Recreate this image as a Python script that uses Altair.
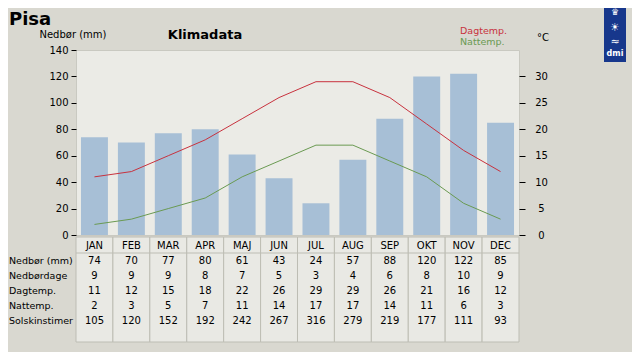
import altair as alt
import pandas as pd

months = ["JAN", "FEB", "MAR", "APR", "MAJ", "JUN", "JUL", "AUG", "SEP", "OKT", "NOV", "DEC"]
nedbor = [74, 70, 77, 80, 61, 43, 24, 57, 88, 120, 122, 85]
nedbordage = [9, 9, 9, 8, 7, 5, 3, 4, 6, 8, 10, 9]
dagtemp = [11, 12, 15, 18, 22, 26, 29, 29, 26, 21, 16, 12]
nattemp = [2, 3, 5, 7, 11, 14, 17, 17, 14, 11, 6, 3]
solskin = [105, 120, 152, 192, 242, 267, 316, 279, 219, 177, 111, 93]
row_labels = ["Nedbør (mm)", "Nedbørdage", "Dagtemp.", "Nattemp.", "Solskinstimer"]
series_names = ["Dagtemp.", "Nattemp."]

W, H = 443, 185
FONT = "DejaVu Sans"
RED = "#c8323e"
GREEN = "#6a9a52"

xscale = alt.Scale(domain=months, paddingInner=0, paddingOuter=0)
xenc = alt.X("month:N", scale=xscale, axis=None, sort=months)

precip_df = pd.DataFrame({"month": months, "nedbor": nedbor})
temp_df = pd.DataFrame({
    "month": months * 2,
    "serie": [series_names[0]] * 12 + [series_names[1]] * 12,
    "temp": dagtemp + nattemp,
})

rows_all = ["hdr"] + row_labels
table_values = [nedbor, nedbordage, dagtemp, nattemp, solskin]
cells = []
for m in months:
    cells.append({"month": m, "row": "hdr", "txt": m})
for lab, vals in zip(row_labels, table_values):
    for m, v in zip(months, vals):
        cells.append({"month": m, "row": lab, "txt": str(v)})
cells_df = pd.DataFrame(cells)
labels_df = pd.DataFrame({"row": row_labels})
rowscale = alt.Scale(type="point", domain=rows_all, range=[196, 271], padding=0)

dummy = pd.DataFrame({"a": [0]})

# table column backgrounds
table_bg = alt.Chart(pd.DataFrame({"month": months})).mark_rect(
    fill="#e9e9e4", stroke="#bdbdb4", strokeWidth=1
).encode(x=xenc, y=alt.value(187), y2=alt.value(292))

header_rule = alt.Chart(dummy).mark_rule(color="#bdbdb4", strokeWidth=1).encode(
    x=alt.value(0), x2=alt.value(W), y=alt.value(203)
)

bars = alt.Chart(precip_df).mark_bar(
    color="#a7bfd6", width=alt.RelativeBandSize(0.73)
).encode(
    x=xenc,
    y=alt.Y("nedbor:Q", scale=alt.Scale(domain=[0, 140], nice=False),
            axis=alt.Axis(orient="left", values=list(range(0, 141, 20)), title=None,
                          domain=False, grid=False, tickSize=5, tickColor="#000",
                          labelPadding=3, labelFontSize=10, labelFont=FONT,
                          labelColor="#000")),
)

lines = alt.Chart(temp_df).mark_line(strokeWidth=1, interpolate="linear").encode(
    x=xenc,
    y=alt.Y("temp:Q", scale=alt.Scale(domain=[0, 35], nice=False),
            axis=alt.Axis(orient="right", values=list(range(0, 31, 5)), title=None,
                          domain=False, grid=False, tickSize=6, tickColor="#000",
                          labelAlign="center", labelPadding=16, labelFontSize=10,
                          labelFont=FONT, labelColor="#000")),
    color=alt.Color("serie:N", scale=alt.Scale(domain=series_names, range=[RED, GREEN]),
                    legend=None),
    detail="serie:N",
)

cell_text = alt.Chart(cells_df).mark_text(
    font=FONT, fontSize=10, color="#000", baseline="middle", align="center"
).encode(
    x=xenc,
    y=alt.Y("row:N", scale=rowscale, axis=None),
    text="txt:N",
)

row_text = alt.Chart(labels_df).mark_text(
    font=FONT, fontSize=9.5, color="#000", baseline="middle", align="left"
).encode(
    x=alt.value(-67),
    y=alt.Y("row:N", scale=rowscale, axis=None),
    text="row:N",
)


def label(txt, x, y, size=10, bold=False, color="#000", align="left"):
    return alt.Chart(dummy).mark_text(
        text=txt, font=FONT, fontSize=size, fontWeight="bold" if bold else "normal",
        color=color, align=align, baseline="middle"
    ).encode(x=alt.value(x), y=alt.value(y))


logo = alt.Chart(dummy).mark_rect(color="#17378c").encode(
    x=alt.value(528), x2=alt.value(550), y=alt.value(-50), y2=alt.value(12)
)

decor = [
    label("Pisa", -67, -30, size=18, bold=True),
    label("Nedbør (mm)", -3, -15, size=10, align="center"),
    label("Klimadata", 129, -15, size=13, bold=True, align="center"),
    label("Dagtemp.", 384, -19, size=9.5, color=RED),
    label("Nattemp.", 384, -8, size=9.5, color=GREEN),
    label("°C", 461, -12, size=10),
    logo,
    label("♛", 539, -38, size=9, color="#ffffff", align="center"),
    label("☀", 539, -22, size=11, color="#ffffff", align="center"),
    label("≈", 539, -8, size=11, color="#ffffff", align="center"),
    label("dmi", 539, 4, size=8, bold=True, color="#ffffff", align="center"),
]

chart = alt.layer(
    bars, lines, table_bg, header_rule, cell_text, row_text, *decor
).resolve_scale(
    y="independent"
).properties(
    width=W, height=H,
    autosize=alt.AutoSizeParams(type="none"),
    padding={"left": 68, "top": 42, "right": 113, "bottom": 117},
    background="#d9d8d0",
).configure_view(
    fill="#ebebe6", stroke="#c9c9c1", strokeWidth=1
)

chart.save("out.html", embed_options={"renderer": "svg", "actions": False})
